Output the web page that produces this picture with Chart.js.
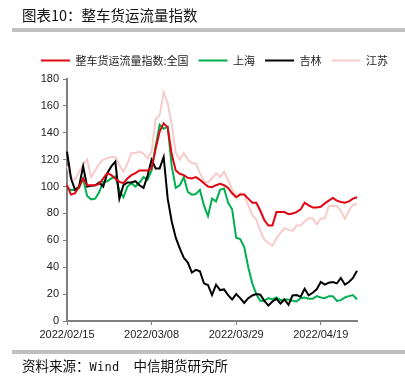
<!DOCTYPE html>
<html>
<head>
<meta charset="utf-8">
<script src="https://cdn.jsdelivr.net/npm/chart.js@4.4.0/dist/chart.umd.min.js"></script>
<style>
  body { margin: 0; width: 405px; height: 377px; background: #fff; position: relative; overflow: hidden; font-family: "Noto Sans CJK SC", sans-serif; }
  canvas { position: absolute; left: 0; top: 0; }
  #title { position: absolute; left: 22px; top: 5px; font-size: 14.5px; line-height: 20px; color: #111; white-space: nowrap; }
  .rule { position: absolute; left: 12px; right: 0; height: 4px; background: #c0c0c0; }
  #src { position: absolute; left: 22px; top: 356px; font-size: 13.5px; line-height: 18px; color: #111; white-space: nowrap; }
  #src .en { font-family: "DejaVu Sans Mono", monospace; font-size: 12px; letter-spacing: 0.3px; }
  #src .org { margin-left: 14px; }
</style>
</head>
<body>
<canvas id="canvas" width="405" height="377"></canvas>
<div id="title">图表10：整车货运流量指数</div>
<div class="rule" style="top:28px"></div>
<div class="rule" style="top:350px"></div>
<div id="src">资料来源：<span class="en">Wind</span><span class="org">中信期货研究所</span></div>
<script>
// daily dates 2022/02/15 .. 2022/04/28
var dates = [];
var start = Date.UTC(2022, 1, 15);
for (var i = 0; i < 73; i++) {
  var d = new Date(start + i * 864e5);
  dates.push(d.getUTCFullYear() + '/' + ('0' + (d.getUTCMonth() + 1)).slice(-2) + '/' + ('0' + d.getUTCDate()).slice(-2));
}

var quanguo = [101, 94, 95, 100, 106, 101, 101, 101, 102, 106, 110, 108.5, 106, 103.5, 102.5, 106, 108.5, 110, 112, 112,
  112, 113.5, 128, 141, 147, 144, 124, 112, 109.5, 108.5, 106.5, 106, 107, 105, 102.5, 100, 99.5, 101, 102, 101,
  99, 95, 92, 94, 94, 91, 88, 88, 82, 75, 71, 71, 81, 81, 81, 79.5, 80, 81, 83, 88,
  86, 84.5, 84.5, 85, 87.5, 89.5, 91.5, 89.5, 88.5, 88, 89, 91, 92];
var shanghai = [98.7, 97.5, 97.5, 99, 106, 93, 90.5, 91, 96, 103.5, 104, 106, 107.5, 97, 92, 100, 102.5, 100, 103, 107,
  105, 112, 130, 146, 143, 144.5, 115, 99, 101, 107, 96, 94, 94.5, 97.5, 86, 78, 91, 89, 97.5, 98.5,
  88, 83, 62, 61, 55, 40, 28, 20, 15, 15, 17, 16, 17.5, 15.5, 16, 16, 15, 14.5, 17, 17.5,
  16.5, 16.5, 18.5, 17.5, 17, 18.5, 18.5, 15, 15.5, 17.5, 18.5, 19.3, 16];
var jilin = [126, 106, 97.5, 100, 115, 100, 100.5, 101, 103, 100, 110, 115, 118.5, 91, 101, 103, 103, 104, 101, 99,
  108, 120, 113.5, 113.5, 122, 91, 74, 62, 54, 47, 43.5, 36, 38, 37, 28, 26.8, 19.3, 27, 23, 23.5,
  19.3, 16, 20, 17, 13.5, 17, 19, 20, 19.5, 15, 11.5, 14.5, 16.5, 13, 16, 12, 19, 19.3, 18, 24,
  19, 21, 23.6, 29, 27, 28.5, 29, 28, 32, 27, 29, 32, 37.4];
var jiangsu = [115, 107, 105, 111, 116, 120, 107, 112, 117, 120, 121, 122, 122, 116, 111, 117, 125, 125, 126, 124.5,
  121, 126, 150, 153, 170, 162, 146, 125, 120, 125, 120, 117.5, 117, 110, 104, 103, 106, 110, 107, 111,
  105, 98, 93, 95, 94, 86, 79, 75.5, 67, 60.5, 58, 56, 61.5, 65.5, 69, 68, 67, 71, 71, 74,
  76.5, 76.5, 72, 76, 76.5, 85.5, 85.5, 85.5, 82, 76, 82, 86.5, 87];

var tickFont = { family: '"Liberation Sans", Arial, sans-serif', size: 11 };
var axisGrey = '#808080';

var ctxL = document.getElementById('canvas').getContext('2d');
var chart = new Chart(ctxL, {
  type: 'line',
  data: {
    labels: dates,
    datasets: [
      { label: '整车货运流量指数:全国', data: quanguo, borderColor: '#e00512', backgroundColor: '#e00512', order: 0 },
      { label: '上海', data: shanghai, borderColor: '#00b050', backgroundColor: '#00b050', order: 2 },
      { label: '吉林', data: jilin, borderColor: '#000000', backgroundColor: '#000000', order: 1 },
      { label: '江苏', data: jiangsu, borderColor: '#f8cbcb', backgroundColor: '#f8cbcb', order: 3 }
    ]
  },
  options: {
    responsive: false,
    animation: false,
    layout: { padding: { top: 45, left: 24, right: 0, bottom: 0 } },
    elements: {
      point: { radius: 0 },
      line: { borderWidth: 2, tension: 0, fill: false }
    },
    plugins: {
      legend: {
        labels: {
          boxWidth: 29,
          boxHeight: 0,
          padding: 10,
          color: '#222',
          font: { family: '"Noto Sans CJK SC"', size: 11 },
          sort: function (a, b) { return a.datasetIndex - b.datasetIndex; }
        }
      },
      tooltip: { enabled: false }
    },
    scales: {
      x: {
        grid: { drawOnChartArea: false, tickLength: 4, color: axisGrey },
        border: { color: axisGrey, width: 2 },
        ticks: { autoSkip: false, maxRotation: 0, padding: 3, color: '#222', font: tickFont },
        afterBuildTicks: function (s) { s.ticks = s.ticks.filter(function (t) { return t.value % 21 === 0; }); },
        afterFit: function (s) { s.height = 56; }
      },
      y: {
        min: 0,
        max: 180,
        grid: { drawOnChartArea: false, tickLength: 4, color: axisGrey },
        border: { color: axisGrey, width: 2 },
        ticks: { stepSize: 20, padding: 4, color: '#222', font: tickFont },
        afterFit: function (s) { s.width = 43; }
      },
      y2: {
        position: 'right',
        grid: { display: false },
        border: { display: false },
        ticks: { display: false },
        afterFit: function (s) { s.width = 48; }
      }
    }
  },
  plugins: [{
    id: 'legendGap',
    afterInit: function (c) {
      if (!c.legend) return;
      var fit = c.legend.fit;
      c.legend.fit = function () { fit.call(this); this.height = 34; };
    }
  }]
});
</script>
</body>
</html>
